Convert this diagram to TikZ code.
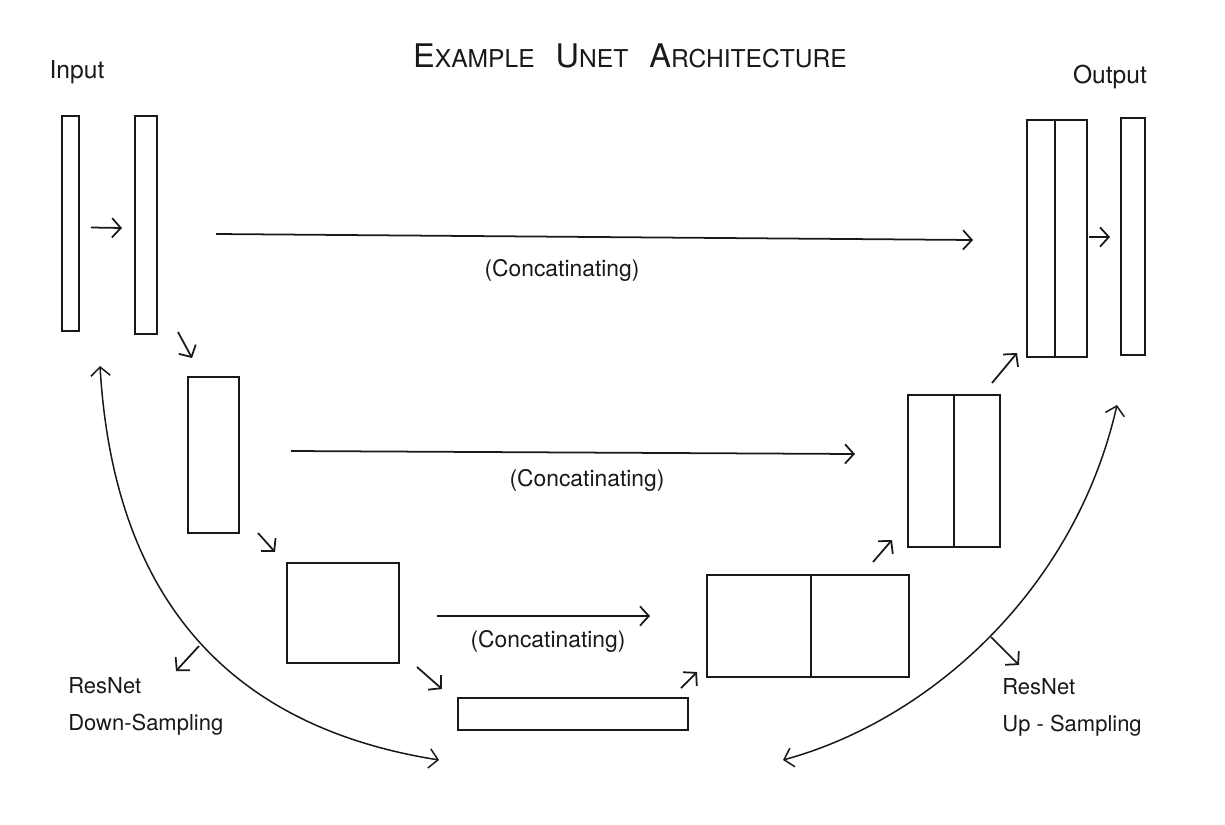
\documentclass[tikz,border=0pt]{standalone}
\usepackage{fontspec}
\setmainfont{TeX Gyre Heros}
\usetikzlibrary{arrows.meta}
\definecolor{ink}{RGB}{25,25,25}
\def\px{0.02cm}
\newcommand{\layer}[5]{\node[layer,minimum width=#4*\px,minimum height=#5*\px] (#1) at (#2,#3) {};}
\newcommand{\smc}[2]{{\fontsize{18.5}{22}\selectfont #1}{\fontsize{14}{17}\selectfont #2}}
\tikzset{
  layer/.style={draw=ink,line width=1.3pt,rectangle,inner sep=0pt,outer sep=0pt},
  flow/.style={->,draw=ink,line width=1pt},
  skip/.style={<->,draw=ink,line width=0.85pt},
  lbl/.style={text=ink,font=\fontsize{13}{15}\selectfont,inner sep=0pt},
  side/.style={text=ink,font=\fontsize{12.5}{21}\selectfont,align=left,anchor=north west,inner sep=0pt},
  >={Straight Barb[length=5pt,width=11pt]}
}

\begin{document}
\begin{tikzpicture}[x=0.02cm,y=-0.02cm]
\path[fill=white,use as bounding box] (0,0) rectangle (1225,825);

\node[text=ink,inner sep=0pt] (title) at (630,56) {\smc{E}{XAMPLE}\hspace{12pt}\smc{U}{NET}\hspace{12pt}\smc{A}{RCHITECTURE}};
\node[lbl,font=\fontsize{14}{16}\selectfont] (input) at (77,72) {Input};
\node[lbl,font=\fontsize{14}{16}\selectfont] (output) at (1110,77) {Output};

\layer{in1}{70.5}{223.5}{17}{215}
\layer{in2}{146}{225}{22}{218}
\layer{d2}{213.5}{455}{51}{156}
\layer{d3}{343}{613}{112}{100}
\layer{bot}{573}{714}{230}{32}
\layer{u3a}{759}{626}{104}{102}
\layer{u3b}{860}{626}{98}{102}
\layer{u2a}{931}{471}{46}{152}
\layer{u2b}{977}{471}{46}{152}
\layer{outA}{1041}{238.5}{28}{237}
\layer{outB}{1071}{238.5}{32}{237}
\layer{out}{1133}{236.5}{24}{237}

\draw[flow] ([shift={(12,4)}]in1.east) -- ([shift={(-13,3)}]in2.west);
\draw[flow] ([shift={(21,-2)}]in2.south east) -- ([shift={(4,-19)}]d2.north west);
\draw[flow] ([shift={(19,0)}]d2.south east) -- ([shift={(-12,-11)}]d3.north west);
\draw[flow] ([shift={(18,4)}]d3.south east) -- ([shift={(-16,-9)}]bot.north west);
\draw[flow] ([shift={(-7,-10)}]bot.north east) -- ([shift={(-10,-5)}]u3a.south west);
\draw[flow] ([shift={(-36,-13)}]u3b.north east) -- ([shift={(-16,-7)}]u2a.south west);
\draw[flow] ([shift={(-8,-12)}]u2b.north east) -- ([shift={(-10,-4)}]outA.south west);
\draw[flow] ([shift={(2,-1.5)}]outB.east) -- ([shift={(-11,0.5)}]out.west);

\draw[flow] ([shift={(59,9)}]in2.east) -- ([shift={(-54,1.5)}]outA.west);
\draw[flow] ([shift={(52,-4)}]d2.east) -- ([shift={(-53,-17)}]u2a.west);
\draw[flow] ([shift={(38,3)}]d3.east) -- ([shift={(-57,-10)}]u3a.west);
\node[lbl] (cat1) at (562,270) {(Concatinating)};
\node[lbl] (cat2) at (587,480) {(Concatinating)};
\node[lbl] (cat3) at (548,641) {(Concatinating)};

\coordinate (dnA) at (100,366);
\coordinate (dnB) at (439,760);
\coordinate (dn) at (199,646);
\coordinate (upA) at (783,760);
\coordinate (upB) at (1117,405);
\coordinate (up) at (991,637);
\draw[skip] (dnA) .. controls (115,620) and (250,730) .. (dnB);
\draw[skip] (upA) .. controls (930,720) and (1075,590) .. (upB);
\draw[flow] (dn) -- ++(-23,25);
\draw[flow] (up) -- ++(28,28);
\node[side] (dnlbl) at (68,677) {ResNet\\Down-Sampling};
\node[side] (uplbl) at (1002,678) {ResNet\\Up - Sampling};
\end{tikzpicture}
\end{document}
